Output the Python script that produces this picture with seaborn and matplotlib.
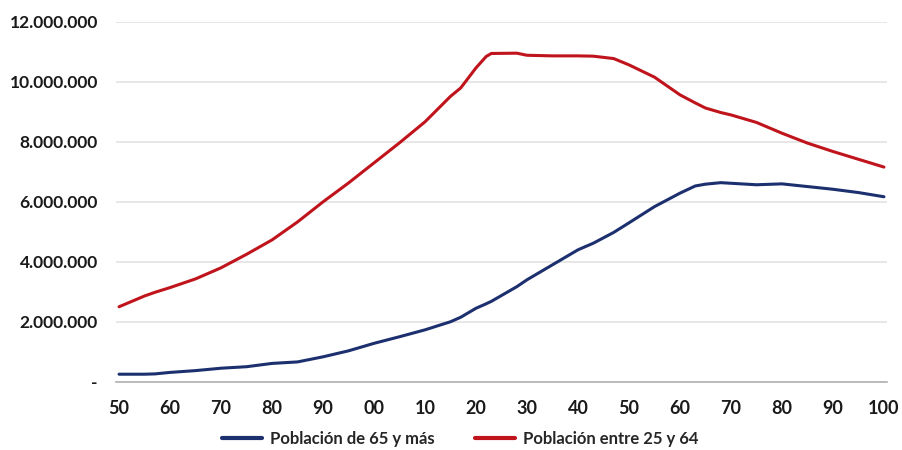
import numpy as np
import pandas as pd
import matplotlib
matplotlib.use("Agg")
import matplotlib.pyplot as plt
from matplotlib.ticker import FuncFormatter
import seaborn as sns

# Years and population series (millions)
years = [1950, 1955, 1957, 1960, 1965, 1970, 1975, 1980, 1985, 1990, 1995, 2000,
         2005, 2010, 2015, 2017, 2020, 2022, 2023, 2028, 2030, 2035, 2040, 2043,
         2045, 2047, 2050, 2055, 2060, 2063, 2065, 2068, 2070, 2075, 2080, 2085,
         2090, 2095, 2100]

pob_65_mas = [0.25, 0.25, 0.26, 0.31, 0.37, 0.45, 0.50, 0.61, 0.66, 0.83, 1.03, 1.28,
              1.50, 1.73, 2.00, 2.15, 2.45, 2.60, 2.68, 3.17, 3.40, 3.90, 4.40, 4.62,
              4.80, 4.98, 5.30, 5.84, 6.29, 6.53, 6.59, 6.64, 6.62, 6.57, 6.60, 6.51,
              6.42, 6.31, 6.17]

pob_25_64 = [2.50, 2.86, 2.98, 3.14, 3.43, 3.80, 4.25, 4.73, 5.33, 6.00, 6.63, 7.30,
             7.97, 8.67, 9.52, 9.80, 10.47, 10.85, 10.95, 10.96, 10.89, 10.87, 10.87, 10.86,
             10.82, 10.78, 10.57, 10.16, 9.57, 9.30, 9.13, 8.98, 8.90, 8.65, 8.29, 7.96,
             7.68, 7.42, 7.16]

labels = ["Población de 65 y más", "Población entre 25 y 64"]
colors = ["#1C2F6E", "#C0141C"]

df = pd.concat([
    pd.DataFrame({"Año": years, "Población": np.array(pob_65_mas) * 1e6, "Serie": labels[0]}),
    pd.DataFrame({"Año": years, "Población": np.array(pob_25_64) * 1e6, "Serie": labels[1]}),
])

sns.set_style("white")
plt.rcParams["font.family"] = ["Lato", "DejaVu Sans"]
plt.rcParams["font.weight"] = "bold"

fig = plt.figure(figsize=(9.03, 4.5), dpi=100)
ax = fig.add_axes([116 / 903, 1 - 381.7 / 450, (887 - 116) / 903, (381.7 - 22) / 450])

sns.lineplot(data=df, x="Año", y="Población", hue="Serie", palette=colors,
             hue_order=labels, linewidth=2.2, ax=ax, legend=False)

ax.set_xlim(1949.4, 2100.6)
ax.set_ylim(0, 12e6)

ax.set_yticks(np.arange(0, 12e6 + 1, 2e6))
def fmt_y(v, pos):
    if v == 0:
        return "-"
    return f"{int(v):,}".replace(",", ".")
ax.yaxis.set_major_formatter(FuncFormatter(fmt_y))

xt = list(range(1950, 2101, 10))
ax.set_xticks(xt)
ax.set_xticklabels([str(y % 100).zfill(2) if y != 2100 else "100" for y in xt])

ax.grid(axis="y", color="#E3E3E3", linewidth=1.2)
ax.set_axisbelow(True)
for s in ["top", "right", "left"]:
    ax.spines[s].set_visible(False)
ax.spines["bottom"].set_color("#B0B0B0")
ax.spines["bottom"].set_linewidth(1.2)

ax.tick_params(axis="x", direction="out", length=6, width=1.2, color="#B0B0B0",
               labelsize=13, pad=7, labelcolor="#1A1A1A")
ax.tick_params(axis="y", length=0, labelsize=12.5, pad=13, labelcolor="#1A1A1A")
for t in ax.get_xticklabels() + ax.get_yticklabels():
    t.set_fontweight("bold")

ax.set_xlabel("")
ax.set_ylabel("")

handles = [plt.Line2D([], [], color=c, linewidth=3) for c in colors]
fig.legend(handles, labels, loc="center", bbox_to_anchor=(460 / 903, 1 - 439 / 450),
           ncol=2, frameon=False, handlelength=2.4, handletextpad=0.5,
           columnspacing=2.4, prop={"weight": "bold", "size": 12})

fig.savefig("out.png", dpi=100, facecolor="white")
